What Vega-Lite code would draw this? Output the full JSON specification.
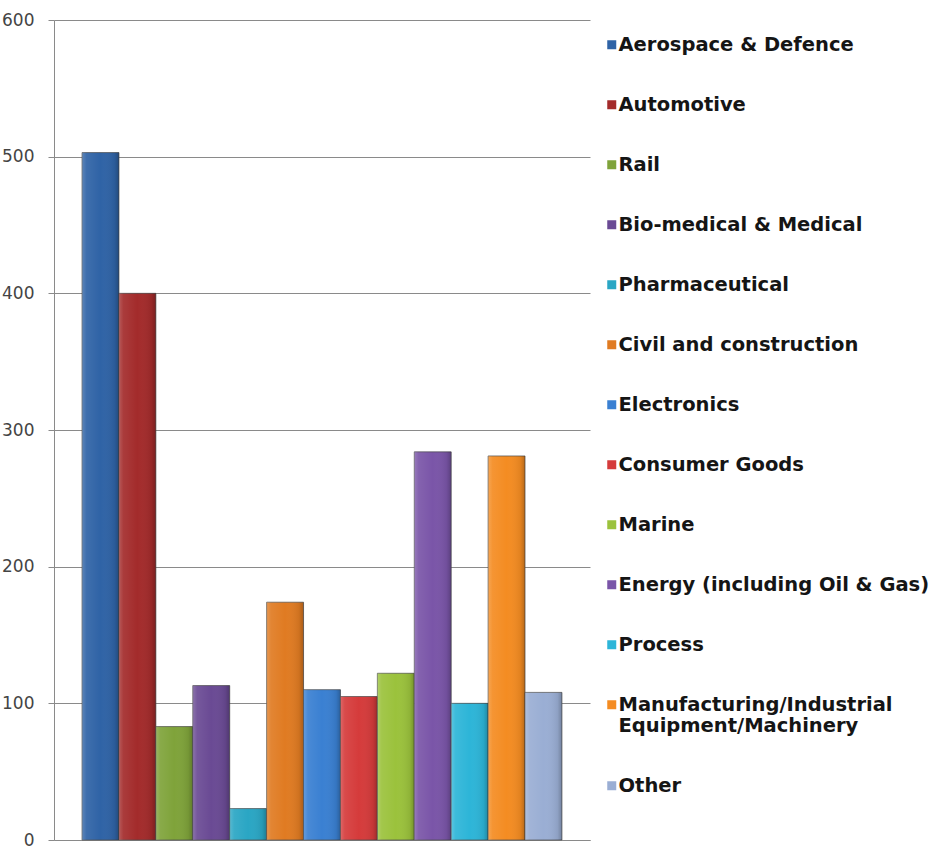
{
  "$schema": "https://vega.github.io/schema/vega-lite/v6.json",
  "width": 536,
  "height": 820,
  "autosize": {"type": "none"},
  "padding": {"left": 54, "top": 20, "right": 347, "bottom": 6},
  "background": "white",
  "config": {"view": {"stroke": null}},
  "data": {
    "values": [
      {"sector": "Aerospace & Defence", "value": 503},
      {"sector": "Automotive", "value": 400},
      {"sector": "Rail", "value": 83},
      {"sector": "Bio-medical & Medical", "value": 113},
      {"sector": "Pharmaceutical", "value": 23},
      {"sector": "Civil and construction", "value": 174},
      {"sector": "Electronics", "value": 110},
      {"sector": "Consumer Goods", "value": 105},
      {"sector": "Marine", "value": 122},
      {"sector": "Energy (including Oil & Gas)", "value": 284},
      {"sector": "Process", "value": 100},
      {"sector": "Manufacturing/Industrial Equipment/Machinery", "value": 281},
      {"sector": "Other", "value": 108}
    ]
  },
  "encoding": {
    "x": {
      "field": "sector",
      "type": "nominal",
      "sort": null,
      "scale": {"paddingInner": 0, "paddingOuter": 0.76},
      "axis": {"labels": false, "ticks": false, "title": null, "domain": true, "domainColor": "#8a8a8a", "domainWidth": 1}
    },
    "y": {
      "field": "value",
      "type": "quantitative",
      "scale": {"domain": [0, 600], "nice": false},
      "axis": {
        "values": [0, 100, 200, 300, 400, 500, 600],
        "title": null,
        "grid": true,
        "gridColor": "#8a8a8a",
        "gridWidth": 1,
        "domainColor": "#8a8a8a",
        "tickColor": "#8a8a8a",
        "tickSize": 6,
        "labelPadding": 14,
        "labelFont": "DejaVu Sans",
        "labelFontSize": 17,
        "labelColor": "#444444"
      }
    }
  },
  "layer": [
    {
      "mark": {"type": "bar", "stroke": "#4a4a4a", "strokeWidth": 1, "strokeOpacity": 0.7},
      "encoding": {
        "color": {
          "field": "sector",
          "type": "nominal",
          "sort": null,
          "scale": {
            "domain": ["Aerospace & Defence", "Automotive", "Rail", "Bio-medical & Medical", "Pharmaceutical", "Civil and construction", "Electronics", "Consumer Goods", "Marine", "Energy (including Oil & Gas)", "Process", "Manufacturing/Industrial Equipment/Machinery", "Other"],
            "range": ["#2f63a6", "#a32b2b", "#7fa33a", "#6a4a94", "#2aa6c4", "#e07b22", "#3a80d2", "#d53b3b", "#9bc23c", "#7a55a8", "#2db5d8", "#f48c22", "#9aaed4"]
          },
          "legend": {
            "title": null,
            "orient": "none",
            "legendX": 548,
            "legendY": 15,
            "symbolType": "square",
            "symbolSize": 81,
            "symbolStrokeWidth": 0,
            "labelFont": "DejaVu Sans",
            "labelFontSize": 19.5,
            "labelFontWeight": "bold",
            "labelColor": "#151515",
            "labelOffset": -3,
            "labelLimit": 400,
            "labelBaseline": "middle",
            "rowPadding": 39,
            "labelExpr": "datum.label == 'Manufacturing/Industrial Equipment/Machinery' ? ['Manufacturing/Industrial', 'Equipment/Machinery'] : datum.label"
          }
        }
      }
    },
    {
      "mark": {
        "type": "bar",
        "fill": {
          "gradient": "linear",
          "x1": 0, "y1": 0, "x2": 1, "y2": 0,
          "stops": [
            {"offset": 0, "color": "rgba(255,255,255,0.22)"},
            {"offset": 0.12, "color": "rgba(255,255,255,0.08)"},
            {"offset": 0.5, "color": "rgba(255,255,255,0)"},
            {"offset": 0.88, "color": "rgba(0,0,0,0.08)"},
            {"offset": 1, "color": "rgba(0,0,0,0.25)"}
          ]
        }
      }
    }
  ]
}
